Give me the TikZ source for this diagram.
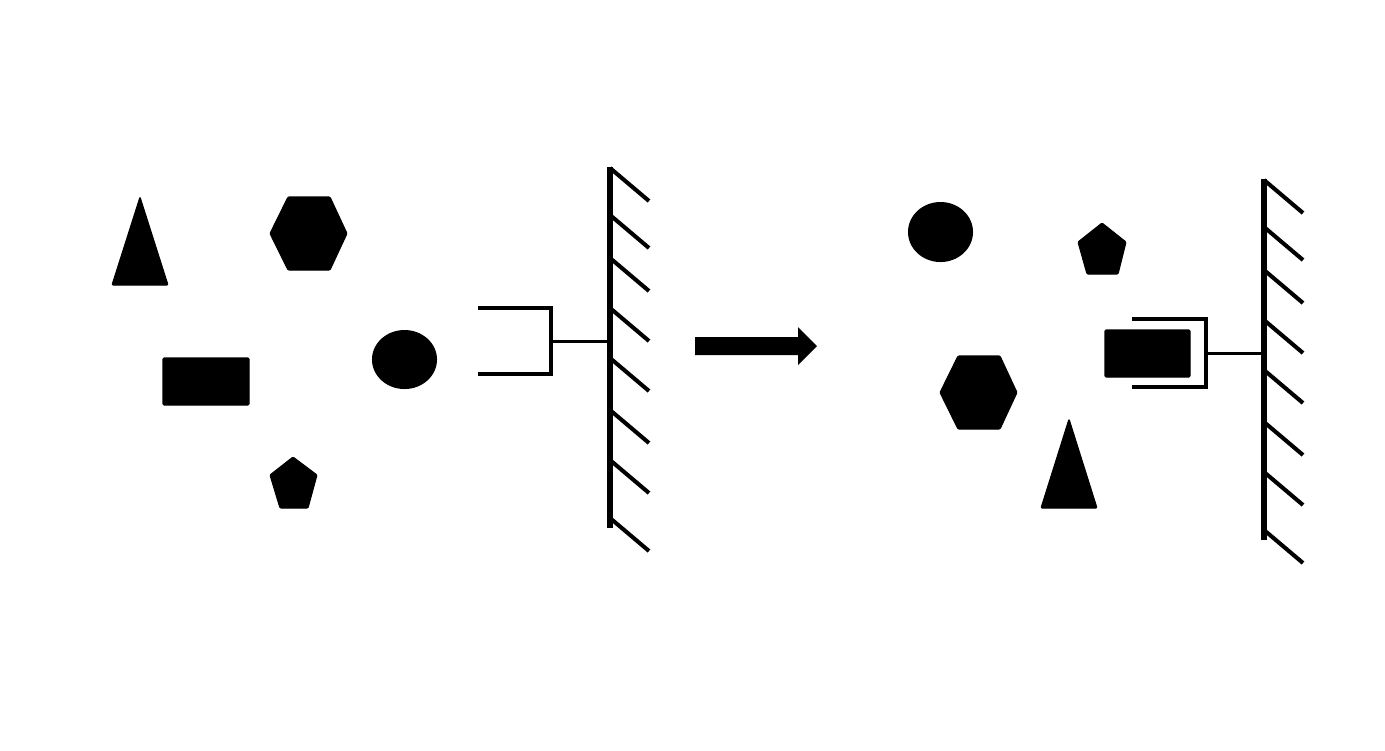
\documentclass[tikz,border=0pt]{standalone}
\usepackage{tikz}
\usetikzlibrary{shapes.misc, arrows, shapes}

\tikzset{
	piece/.style={fill=black, draw=black, line width=0.3pt, rounded corners=0.3pt},
	wallline/.style={line width=1.5pt},
	hatch/.style={line width=1.15pt},
	grip/.style={line width=1.2pt},
	stem/.style={line width=0.85pt}
}

\begin{document}
\begin{tikzpicture}[x=0.01cm, y=-0.01cm]
	\useasboundingbox (0,0) rectangle (1385,750);
	% before: loose parts
	\fill[piece] (140,197) -- (168,285) -- (112,285) -- cycle; 
	\fill[piece] (288,197) -- (330,197) -- (347,233.5) -- (330,270) -- (288,270) -- (270,233.5) -- cycle; 
	\fill[piece] (163,358) rectangle (249,405); 
	\fill (404.5,359.5) ellipse (0.325cm and 0.295cm); 
	\fill[piece] (293,457) -- (317,475) -- (308,508) -- (280,508) -- (270,475) -- cycle; 
	% open gripper on the wall
	\draw[grip] (478,308) -- (551,308) -- (551,374) -- (478,374); 
	\draw[stem] (551,341) -- (610,341); 
	\draw[wallline] (610,167) -- (610,528); 
	\foreach \y in {168,215,258,308,358,410,460,518}
		\draw[hatch] (610,\y) -- (649,\y+33); 
	% step arrow
	\fill (695,337) -- (798,337) -- (798,327) -- (817,346) -- (798,365) -- (798,355) -- (695,355) -- cycle; 
	% after: parts moved, block held
	\fill (940.5,232) ellipse (0.325cm and 0.3cm); 
	\fill[piece] (1102,223) -- (1126,242) -- (1118,274) -- (1087,274) -- (1078,242) -- cycle; 
	\fill[piece] (958,356) -- (1000,356) -- (1017,392.5) -- (1000,429) -- (958,429) -- (940,392.5) -- cycle; 
	\fill[piece] (1069,419) -- (1097,508) -- (1041,508) -- cycle; 
	\fill[piece] (1105,330) rectangle (1190,377); 
	\draw[grip] (1132,319) -- (1206,319) -- (1206,387) -- (1132,387); 
	\draw[stem] (1206,353) -- (1264,353); 
	\draw[wallline] (1264,179) -- (1264,540); 
	\foreach \y in {168,215,258,308,358,410,460,518}
		\draw[hatch] (1264,\y+12) -- (1303,\y+45); 
\end{tikzpicture}
\end{document}
